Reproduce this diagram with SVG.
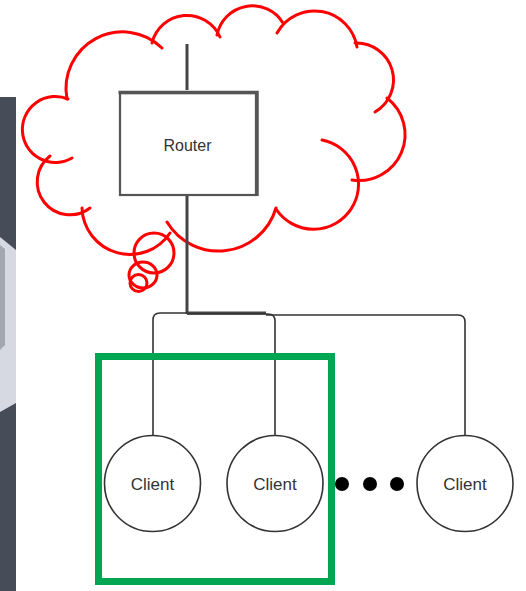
<svg xmlns="http://www.w3.org/2000/svg" width="526" height="591" viewBox="0 0 526 591">
  <style>
    .cloud{fill:none;stroke:#f00;stroke-width:3;stroke-linecap:round}
    .wire{fill:none;stroke:#333;stroke-width:1.6}
    .trunk{fill:none;stroke:#444;stroke-width:3}
    .client{fill:#fff;stroke:#333;stroke-width:1.6}
    .lbl{font-family:"Liberation Sans",Arial,sans-serif;fill:#333;text-anchor:middle}
  </style>
  <rect width="526" height="591" fill="#fff"/>
  <g id="side-strip">
    <rect x="0" y="97" width="16" height="494" fill="#474c59"/>
    <polygon points="0,237 16,250 16,403 0,412" fill="#d6d9e1"/>
    <polygon points="0,245 5,249 5,345 0,350" fill="#a3a7b1"/>
  </g>
  <g id="cloud">
    <path class="cloud" d="M67,99 A56.5,56.5 0 0 1 162,48"/>
    <path class="cloud" d="M152,43 A36,36 0 0 1 220,37"/>
    <path class="cloud" d="M217,35 A36,36 0 0 1 283,23"/>
    <path class="cloud" d="M277,33 A43,43 0 0 1 357,47"/>
    <path class="cloud" d="M355,43 A37,37 0 0 1 375,112"/>
    <path class="cloud" d="M387,98 A46,46 0 0 1 352,180"/>
    <path class="cloud" d="M322,140 A45,45 0 1 1 276,209"/>
    <path class="cloud" d="M276,208 A60,60 0 0 1 167,222"/>
    <path class="cloud" d="M170,233 A48,48 0 0 1 82,208"/>
    <path class="cloud" d="M90,208 A32,32 0 0 1 50,156"/>
    <path class="cloud" d="M72,158 A33,33 0 1 1 68,99"/>
    <circle class="cloud" cx="154" cy="253" r="20"/>
    <ellipse class="cloud" cx="143" cy="275" rx="14" ry="13"/>
    <circle class="cloud" cx="138.5" cy="283" r="8.5"/>
  </g>
  <g id="connectors">
    <line class="trunk" x1="187" y1="44" x2="187" y2="90" stroke-width="2.5"/>
    <line class="trunk" x1="187" y1="196" x2="187" y2="314"/>
    <path class="trunk" d="M187,313 H266" stroke-width="2.5"/>
    <path class="wire" d="M187,313 H160 Q153,313 153,320 V435"/>
    <path class="wire" d="M187,314 H268 Q275,314 275,321 V435"/>
    <path class="wire" d="M266,315 H458 Q465,315 465,322 V435" stroke-width="2"/>
  </g>
  <g id="router">
    <rect x="120" y="93" width="136" height="102" fill="#fff" stroke="#555" stroke-width="2.2"/>
    <path d="M118.5,92.5 H257 V196" fill="none" stroke="#555" stroke-width="3.5"/>
    <text class="lbl" x="187.5" y="151" font-size="16">Router</text>
  </g>
  <g id="client1">
    <circle class="client" cx="152.5" cy="483.5" r="48"/>
    <text class="lbl" x="152.5" y="489.5" font-size="17">Client</text>
  </g>
  <g id="client2">
    <circle class="client" cx="275" cy="483.5" r="48"/>
    <text class="lbl" x="275" y="489.5" font-size="17">Client</text>
  </g>
  <g id="client3">
    <circle class="client" cx="465" cy="483.5" r="48"/>
    <text class="lbl" x="465" y="489.5" font-size="17">Client</text>
  </g>
  <g id="ellipsis" fill="#000">
    <circle cx="342" cy="484" r="7"/>
    <circle cx="370" cy="484" r="7"/>
    <circle cx="397" cy="484" r="7"/>
  </g>
  <g id="group-box">
    <rect x="98.5" y="356.5" width="233" height="225" fill="none" stroke="#00a651" stroke-width="7"/>
  </g>
</svg>
